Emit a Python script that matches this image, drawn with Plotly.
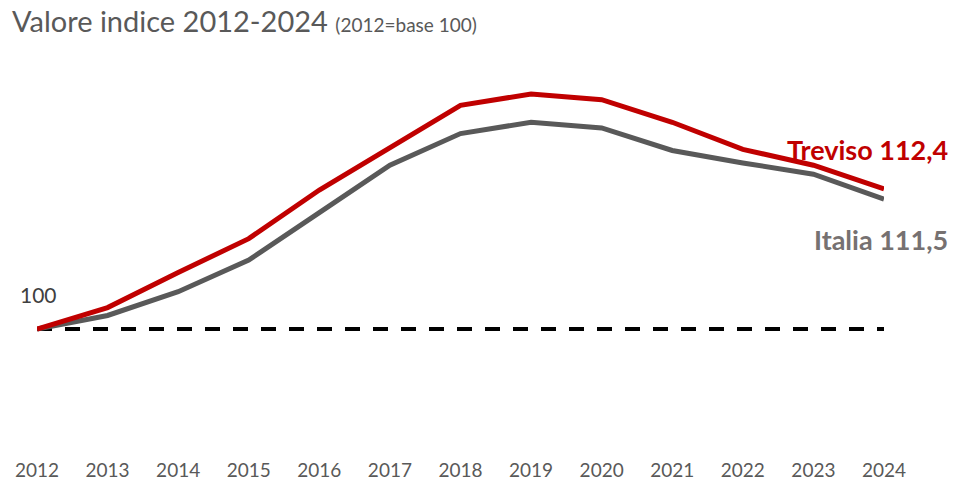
import plotly.graph_objects as go

years = [2012, 2013, 2014, 2015, 2016, 2017, 2018, 2019, 2020, 2021, 2022, 2023, 2024]
treviso = [100.0, 101.9, 105.0, 108.0, 112.3, 116.0, 119.8, 120.8, 120.3, 118.3, 115.9, 114.5, 112.4]
italia = [100.0, 101.2, 103.3, 106.1, 110.3, 114.5, 117.3, 118.3, 117.8, 115.8, 114.7, 113.7, 111.5]
base = [100] * len(years)
tick_labels = [str(y) for y in years]

FONT = "Lato"
fig = go.Figure()
fig.add_trace(go.Scatter(x=years, y=base, mode="lines",
                         line=dict(color="black", width=4, dash="15px,13px"), hoverinfo="skip"))
fig.add_trace(go.Scatter(x=years, y=italia, mode="lines", name="Italia",
                         line=dict(color="#595959", width=5)))
fig.add_trace(go.Scatter(x=years, y=treviso, mode="lines", name="Treviso",
                         line=dict(color="#C00000", width=5)))

fig.update_layout(
    width=973, height=485,
    margin=dict(l=37, r=89, t=40, b=30, autoexpand=False),
    paper_bgcolor="white", plot_bgcolor="white",
    showlegend=False,
    font=dict(family=FONT, color="#595959"),
    xaxis=dict(range=[2012, 2024], tickmode="array", tickvals=years, ticktext=tick_labels,
               showgrid=False, zeroline=False, showline=False, ticklabelstandoff=2,
               automargin=False,
               tickfont=dict(size=19, color="#595959"), fixedrange=True),
    yaxis=dict(range=[88.85, 125.58], visible=False, fixedrange=True, automargin=False),
)

fig.add_annotation(xref="paper", yref="paper", x=-27/847, y=1 + 20/415, xanchor="left", yanchor="middle",
                   text="Valore indice 2012-2024 <span style='font-size:19px'>(2012=base 100)</span>",
                   showarrow=False, font=dict(size=29, color="#595959", family=FONT))
fig.add_annotation(xref="x", yref="y", x=2012, y=100, xanchor="left", yanchor="bottom",
                   xshift=-19, yshift=20, text="100", showarrow=False,
                   font=dict(size=21, color="#404040", family=FONT))
fig.add_annotation(xref="x", yref="y", x=2024, y=treviso[-1], xanchor="right", yanchor="middle",
                   xshift=66, yshift=39, text="<b>Treviso 112,4</b>", showarrow=False,
                   font=dict(size=27, color="#C00000", family=FONT))
fig.add_annotation(xref="x", yref="y", x=2024, y=italia[-1], xanchor="right", yanchor="middle",
                   xshift=66, yshift=-40, text="<b>Italia 111,5</b>", showarrow=False,
                   font=dict(size=27, color="#767171", family=FONT))

fig.write_html("out.html", config={"displayModeBar": False},
               post_script="document.body.style.margin='0px';")
